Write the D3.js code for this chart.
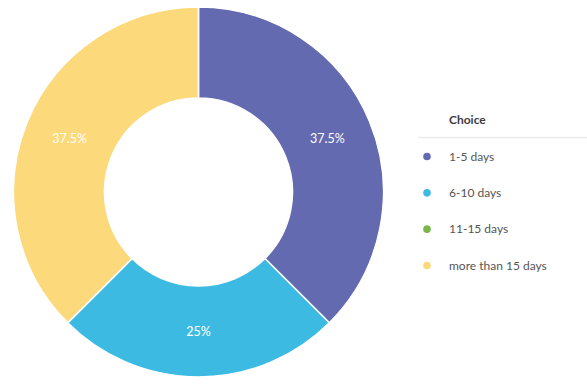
<!DOCTYPE html>
<html>
<head>
<meta charset="utf-8">
<title>Choice</title>
<style>
  body { margin: 0; background: #fff; }
  text { font-family: Lato, "Open Sans", sans-serif; }
</style>
</head>
<body>
<div id="donut"></div>
<script src="https://d3js.org/d3.v7.min.js"></script>
<script>
var categories = ["1-5 days", "6-10 days", "11-15 days", "more than 15 days"];
var counts = [3, 2, 0, 3];
var colors = ["#636ab0", "#3dbae2", "#7ab648", "#fcd97a"];
var legendTitle = "Choice";

var width = 587, height = 385;
var cx = 198.5, cy = 192;
var outerR = 185, innerR = 94;

var data = categories.map(function(c, i) { return { title: c, value: counts[i] }; });
var total = d3.sum(counts);

var color = d3.scaleOrdinal().domain(categories).range(colors);

var svg = d3.select('#donut').append('svg')
  .attr('width', width)
  .attr('height', height);

var g = svg.append('g')
  .attr('transform', 'translate(' + cx + ',' + cy + ')');

var arc = d3.arc().innerRadius(innerR).outerRadius(outerR);
var pie = d3.pie().sort(null).value(function(d) { return d.value; });

var arcs = pie(data);

g.selectAll('path')
  .data(arcs)
  .enter()
  .append('path')
  .attr('d', arc)
  .attr('fill', function(d) { return color(d.data.title); })
  .style('stroke', '#fff')
  .style('stroke-width', '1.5px');

g.selectAll('text.pct')
  .data(arcs.filter(function(d) { return d.data.value > 0; }))
  .enter()
  .append('text')
  .attr('class', 'pct')
  .attr('transform', function(d) { return 'translate(' + arc.centroid(d) + ')'; })
  .attr('text-anchor', 'middle')
  .attr('dy', '0.35em')
  .attr('fill', '#fff')
  .style('font-size', '12.5px')
  .text(function(d) { return d3.format('.3~')(d.data.value / total * 100) + '%'; });

// legend
var lx = 418, ly = 120;
svg.append('text')
  .attr('x', 449)
  .attr('y', ly)
  .attr('dy', '0.35em')
  .attr('fill', '#3d3d3d')
  .style('font-size', '12px')
  .style('font-weight', 'bold')
  .text(legendTitle);

svg.append('line')
  .attr('x1', lx).attr('x2', width)
  .attr('y1', 137.5).attr('y2', 137.5)
  .attr('stroke', '#ececec')
  .attr('stroke-width', 1.5);

var legendY = d3.scalePoint().domain(categories).range([156.5, 265.5]);

var item = svg.selectAll('g.item')
  .data(categories)
  .enter()
  .append('g')
  .attr('class', 'item')
  .attr('transform', function(d) { return 'translate(0,' + legendY(d) + ')'; });

item.append('circle')
  .attr('cx', 427)
  .attr('r', 3.8)
  .attr('fill', function(d) { return color(d); });

item.append('text')
  .attr('x', 449)
  .attr('dy', '0.35em')
  .attr('fill', '#555')
  .style('font-size', '12px')
  .text(function(d) { return d; });
</script>
</body>
</html>
